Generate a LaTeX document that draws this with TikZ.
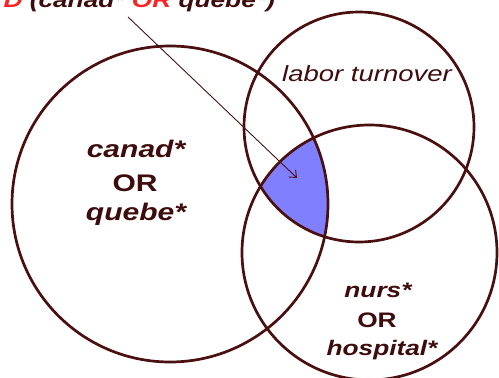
\documentclass[tikz,border=0pt]{standalone}
\usepackage{fontspec}
\setmainfont{Liberation Sans}[FakeStretch=1.25]
\usetikzlibrary{arrows.meta}
\definecolor{ringc}{HTML}{4A1010}
\definecolor{txtc}{HTML}{3E0C0C}
\definecolor{redc}{HTML}{FF2222}
\definecolor{hitc}{HTML}{8080FF}
\begin{document}
\begin{tikzpicture}[x=1pt,y=-1pt,
  ring/.style={draw=ringc,line width=2.7pt},
  bigtxt/.style={text=txtc,anchor=base,font=\fontsize{24}{28}\selectfont\bfseries},
  smalltxt/.style={text=txtc,anchor=base,font=\fontsize{21}{25}\selectfont\bfseries}]
 \useasboundingbox (0,0) rectangle (499,378);
 \clip (0,0) rectangle (499,378);
 % overlap of all three sets
 \begin{scope}
   \clip (170,204) circle [radius=158];
   \clip (359,127) circle [radius=115];
   \fill[hitc] (369.5,252.5) circle [radius=127.5];
 \end{scope}
 \draw[ring] (170,204) circle [radius=158];
 \draw[ring] (359,127) circle [radius=115];
 \draw[ring] (369.5,252.5) circle [radius=127.5];
 \node[anchor=base west,text=txtc,font=\fontsize{21}{25}\selectfont\bfseries\itshape] (query) at (0,7) {\textcolor{redc}{D} (canad* \textcolor{redc}{OR} quebe*)};
 \node[bigtxt] (canad) at (136,157) {\itshape canad*};\node[bigtxt] (or1) at (135,191) {OR};\node[bigtxt] (quebe) at (136,220) {\itshape quebe*};
 \node[text=txtc,anchor=base,font=\fontsize{22}{26}\selectfont\itshape] (labor) at (367,81) {labor turnover};
 \node[smalltxt] (nurs) at (378,297) {\itshape nurs*};\node[smalltxt] (or2) at (377,327) {OR};\node[smalltxt] (hosp) at (382,355) {\itshape hospital*};
 \coordinate (tail) at (128,17); \coordinate (tip) at (297,178);
 \draw[ringc,line width=0.9pt,-{Straight Barb[length=6pt,width=10pt]}] (tail) -- (tip);
\end{tikzpicture}
\end{document}
